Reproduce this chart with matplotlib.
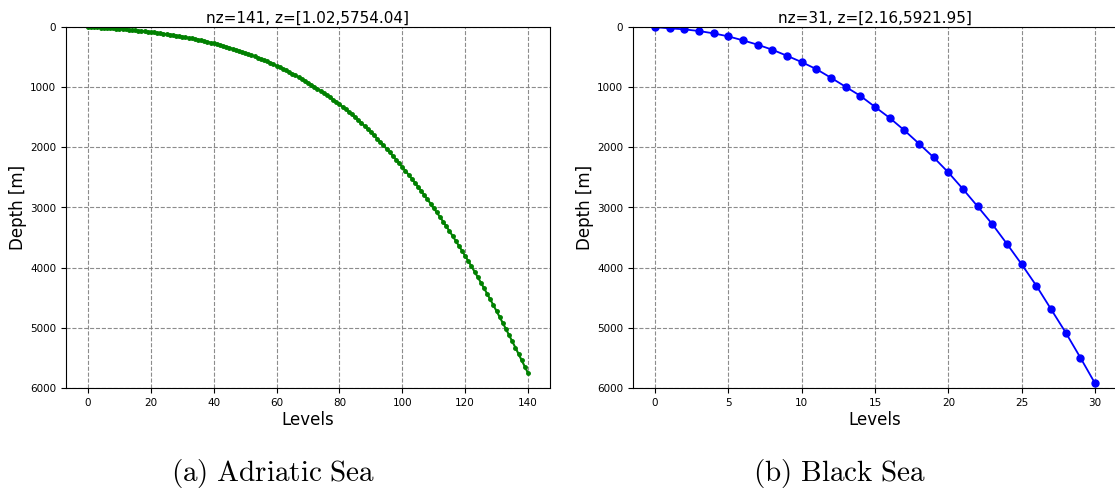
import matplotlib
matplotlib.use("Agg")
import matplotlib.pyplot as plt

# ---- data ----
adriatic_levels = list(range(141))
adriatic_depth = [
    1.02, 2.94, 5.10, 7.50, 10.14, 13.02, 16.14, 19.50, 23.10, 26.94,
    31.02, 35.3, 39.8, 44.6, 49.5, 54.6, 60.0, 65.6, 71.3, 77.3,
    83.5, 89.9, 96.7, 103.6, 110.9, 118.4, 126.3, 134.3, 142.7, 151.3,
    160.3, 169.6, 179.2, 189.4, 199.9, 210.9, 222.2, 234.1, 246.3, 259.0,
    272.0, 285.6, 299.6, 314.1, 329.2, 344.7, 360.7, 377.2, 394.2, 411.7,
    429.8, 448.4, 467.6, 487.4, 507.8, 528.9, 550.6, 572.9, 595.8, 619.4,
    643.6, 668.5, 694.1, 720.4, 747.4, 775.2, 803.7, 832.9, 862.8, 893.5,
    924.9, 957.1, 990.0, 1023.9, 1058.5, 1094.0, 1130.3, 1167.4, 1205.3, 1244.1,
    1283.7, 1324.3, 1366.3, 1409.4, 1453.9, 1499.6, 1546.7, 1594.9, 1644.5, 1695.3,
    1747.5, 1800.8, 1855.1, 1910.4, 1966.7, 2024.1, 2082.5, 2141.9, 2202.3, 2263.8,
    2326.3, 2389.8, 2454.4, 2520.0, 2586.7, 2654.4, 2723.2, 2793.0, 2863.9, 2935.8,
    3008.8, 3082.9, 3158.2, 3234.7, 3312.4, 3391.3, 3471.4, 3552.7, 3635.2, 3718.9,
    3803.8, 3889.9, 3977.3, 4066.0, 4155.9, 4247.1, 4339.6, 4433.3, 4528.3, 4624.5,
    4722.1, 4820.8, 4920.4, 5021.1, 5122.8, 5225.5, 5329.3, 5434.0, 5539.8, 5646.6,
    5754.04,
]

black_levels = list(range(31))
black_depth = [
    2.16, 22, 39, 67, 106, 156, 222, 294, 378, 478,
    583, 700, 844, 994, 1144, 1328, 1511, 1717, 1939, 2167,
    2417, 2694, 2983, 3278, 3606, 3944, 4300, 4689, 5078, 5494,
    5921.95,
]

left_xticks = [0, 20, 40, 60, 80, 100, 120, 140]
right_xticks = [0, 5, 10, 15, 20, 25, 30]
yticks = [0, 1000, 2000, 3000, 4000, 5000, 6000]
captions = ["(a) Adriatic Sea", "(b) Black Sea"]

plt.rcParams["mathtext.fontset"] = "cm"

fig = plt.figure(figsize=(11.15, 4.9), dpi=100)
axL = fig.add_axes([66 / 1115, 102 / 490, 484 / 1115, 361 / 490])
axR = fig.add_axes([633 / 1115, 102 / 490, 484 / 1115, 361 / 490])


def style(ax, xticks, title):
    ax.set_ylim(6000, 0)
    ax.set_yticks(yticks)
    ax.set_xticks(xticks)
    ax.tick_params(labelsize=7.5)
    ax.grid(True, color="gray", linestyle="--", linewidth=0.8, alpha=0.9)
    ax.set_xlabel("Levels", fontsize=12, labelpad=2)
    ax.set_ylabel("Depth [m]", fontsize=12, labelpad=2)
    ax.set_title(title, fontsize=11, pad=3)


axL.plot(adriatic_levels, adriatic_depth, color="g", marker="o",
         markersize=2.5, linewidth=1.5)
style(axL, left_xticks,
      "nz=%d, z=[%.2f,%.2f]" % (len(adriatic_depth), adriatic_depth[0], adriatic_depth[-1]))

axR.plot(black_levels, black_depth, color="b", marker="o",
         markersize=5, linewidth=1.3)
style(axR, right_xticks,
      "nz=%d, z=[%.2f,%.2f]" % (len(black_depth), black_depth[0], black_depth[-1]))
axR.spines["right"].set_visible(False)

for xc, cap in zip([273 / 1115, 840 / 1115], captions):
    fig.text(xc, 17 / 490, r"$\mathrm{" + cap.replace(" ", r"\ ") + "}$",
             ha="center", va="center", fontsize=21)

fig.savefig("out.png", dpi=100)
